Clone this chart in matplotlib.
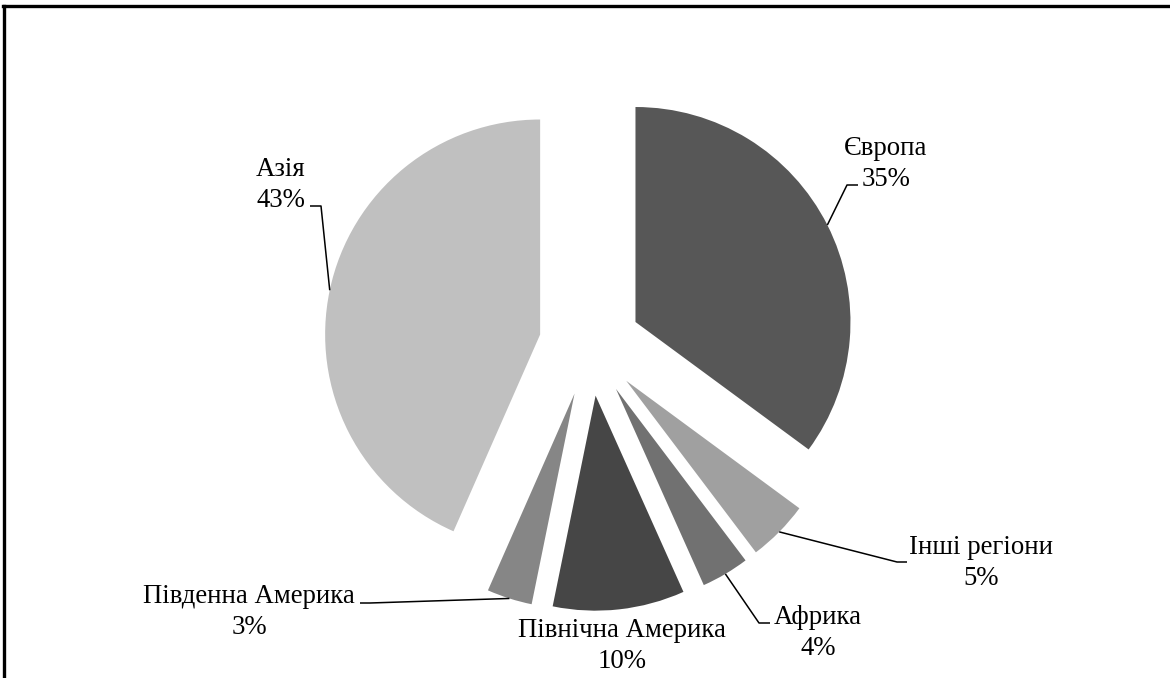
import numpy as np
import matplotlib
matplotlib.use('Agg')
import matplotlib.pyplot as plt
from matplotlib.lines import Line2D

# Data (share of world total, %)
regions = ['Європа', 'Інші регіони', 'Африка', 'Північна Америка', 'Південна Америка', 'Азія']
shares = [35.1, 4.6, 3.6, 9.9, 3.4, 43.4]
colors = ['#575757', '#a0a0a0', '#717171', '#464646', '#868686', '#c0c0c0']

plt.rcParams['font.family'] = ['Liberation Serif', 'DejaVu Serif']

W, H = 1170, 678
CX, CY, R = 590, 345, 215  # pie centre and radius in pixels


def px(x, y):
    """pixel position (from top-left) -> data coords of the pie axes"""
    return (x - CX) / R, (CY - y) / R


fig = plt.figure(figsize=(W / 100, H / 100), dpi=100)
ax = fig.add_axes([0, 0, 1, 1])

wedges, _ = ax.pie(shares, colors=colors, startangle=90, counterclock=False,
                   explode=[0.237] * len(shares), radius=1,
                   wedgeprops=dict(linewidth=0))
ax.set_xlim(-CX / R, (W - CX) / R)
ax.set_ylim(-(H - CY) / R, CY / R)
ax.set_aspect('auto')
ax.axis('off')

# label block centres and leader elbows / ends (pixels)
label_pos = [(886, 164), (981, 563), (818, 633), (622, 646), (249, 612), (281, 185)]
leaders = [
    [(847, 185), (858, 185)],
    [(897, 562), (907, 562)],
    [(759, 623), (770, 623)],
    None,
    [(370, 603), (360, 603)],
    [(321, 206), (310, 206)],
]

for w, name, val, pos, lead in zip(wedges, regions, shares, label_pos, leaders):
    tx, ty = px(*pos)
    ax.text(tx, ty, f'{name}\n{round(val):d}%', ha='center', va='center',
            fontsize=19.3, linespacing=1.3, color='black')
    if lead is None:
        continue
    mid = np.deg2rad((w.theta1 + w.theta2) / 2)
    sx = w.center[0] + w.r * np.cos(mid)
    sy = w.center[1] + w.r * np.sin(mid)
    pts = [(sx, sy)] + [px(*p) for p in lead]
    xs, ys = zip(*pts)
    ax.plot(xs, ys, color='black', lw=1.1, solid_capstyle='butt')

# frame (top and left edges visible)
fig.add_artist(Line2D([3 / W, 1], [1 - 6 / H, 1 - 6 / H], color='black', lw=2.4,
                      transform=fig.transFigure))
fig.add_artist(Line2D([4 / W, 4 / W], [0, 1 - 6 / H], color='black', lw=2.4,
                      transform=fig.transFigure))

fig.savefig('out.png', dpi=100)
